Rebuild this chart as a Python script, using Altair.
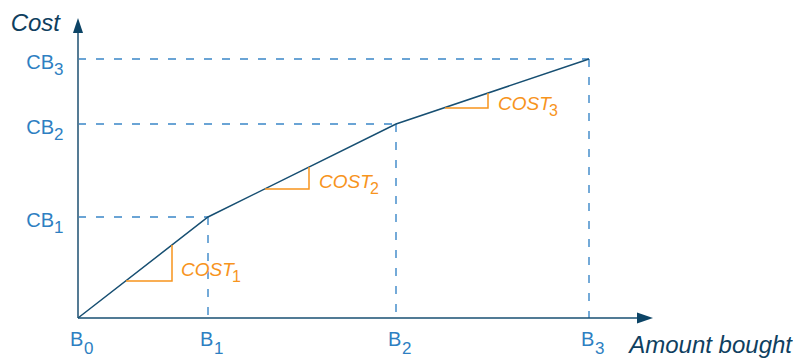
import altair as alt
import pandas as pd

# ---- data ----
breaks_x = [0, 130, 318, 511]          # B0..B3
breaks_y = [0, 101, 194, 259]          # 0, CB1..CB3
x_subs = ["0", "1", "2", "3"]
y_subs = ["1", "2", "3"]
cost_subs = ["1", "2", "3"]
tri_x0 = [48, 187, 367]
tri_x1 = [94, 231, 410]
tri_y0 = [37, 129, 210]
tri_y1 = [73, 151, 225]
cost_x = [103, 241, 420]
cost_y = [42, 130, 208]
x_max = 575
y_max = 300
x_axis_end = 559
y_axis_end = 285

NAVY = "#174f72"
AXIS_Y = "#557b94"
BLUE = "#3a87c8"
LBL = "#2e7fc2"
ORANGE = "#f7941d"
TITLE = "#0f3f5f"
FONT = "Liberation Sans"

xs = alt.Scale(domain=[0, x_max], nice=False, zero=False)
ys = alt.Scale(domain=[0, y_max], nice=False, zero=False)


def X(f):
    return alt.X(f, type="quantitative", scale=xs, axis=None)


def Y(f):
    return alt.Y(f, type="quantitative", scale=ys, axis=None)


line_df = pd.DataFrame({"x": breaks_x, "y": breaks_y})
h_df = pd.DataFrame({"x": [0] * 3, "x2": breaks_x[1:], "y": breaks_y[1:]})
v_df = pd.DataFrame({"x": breaks_x[1:], "y": breaks_y[1:], "y2": [0] * 3})

tri_rows = []
for i in range(3):
    tri_rows.append({"t": i, "o": 0, "x": tri_x0[i], "y": tri_y0[i]})
    tri_rows.append({"t": i, "o": 1, "x": tri_x1[i], "y": tri_y0[i]})
    tri_rows.append({"t": i, "o": 2, "x": tri_x1[i], "y": tri_y1[i]})
tri_df = pd.DataFrame(tri_rows)

cost_df = pd.DataFrame({"x": cost_x, "y": cost_y, "main": ["COST"] * 3, "sub": cost_subs})
xl_df = pd.DataFrame({"x": breaks_x, "y": [0] * 4, "main": ["B"] * 4, "sub": x_subs})
yl_df = pd.DataFrame({"x": [0] * 3, "y": breaks_y[1:], "main": ["CB"] * 3, "sub": y_subs})

xaxis_df = pd.DataFrame({"x": [0], "x2": [x_axis_end], "y": [0]})
yaxis_df = pd.DataFrame({"x": [0], "y": [0], "y2": [y_axis_end]})
xarrow_df = pd.DataFrame({"x": [x_max], "y": [0]})
yarrow_df = pd.DataFrame({"x": [0], "y": [y_max]})
title_df = pd.DataFrame({"x": [0, x_max], "y": [y_max, 0], "t": ["Cost", "Amount bought"]})

dash = [8, 10]

hdash = alt.Chart(h_df).mark_rule(color=BLUE, strokeWidth=1.4, strokeDash=dash).encode(
    x=X("x"), x2="x2", y=Y("y"))
vdash = alt.Chart(v_df).mark_rule(color=BLUE, strokeWidth=1.4, strokeDash=dash).encode(
    x=X("x"), y=Y("y"), y2="y2")

xaxis = alt.Chart(xaxis_df).mark_rule(color=NAVY, strokeWidth=1.6).encode(
    x=X("x"), x2="x2", y=Y("y"))
yaxis = alt.Chart(yaxis_df).mark_rule(color=AXIS_Y, strokeWidth=2).encode(
    x=X("x"), y=Y("y"), y2="y2")

xarrow = alt.Chart(xarrow_df).mark_point(
    shape="M0,0 L-2,-0.69 L-2,0.69 Z", size=256, filled=True, opacity=1,
    color="#0c4466", strokeWidth=0).encode(x=X("x"), y=Y("y"))
yarrow = alt.Chart(yarrow_df).mark_point(
    shape="M0,0 L0.67,2 L-0.67,2 Z", size=225, filled=True, opacity=1,
    color="#0c4466", strokeWidth=0).encode(x=X("x"), y=Y("y"))

cost_line = alt.Chart(line_df).mark_line(color=NAVY, strokeWidth=1.5).encode(
    x=X("x"), y=Y("y"))

tris = alt.Chart(tri_df).mark_line(color=ORANGE, strokeWidth=1.5).encode(
    x=X("x"), y=Y("y"), detail="t:N", order="o:Q")

cost_main = alt.Chart(cost_df).mark_text(
    font=FONT, fontSize=19, fontStyle="italic", color=ORANGE, align="left",
    baseline="alphabetic").encode(x=X("x"), y=Y("y"), text="main:N")
cost_sub = alt.Chart(cost_df).mark_text(
    font=FONT, fontSize=16, color=ORANGE, align="left", baseline="alphabetic",
    dx=51, dy=6).encode(x=X("x"), y=Y("y"), text="sub:N")

xl_main = alt.Chart(xl_df).mark_text(
    font=FONT, fontSize=20, color=LBL, align="left", baseline="alphabetic",
    dx=-8, dy=28).encode(x=X("x"), y=Y("y"), text="main:N")
xl_sub = alt.Chart(xl_df).mark_text(
    font=FONT, fontSize=17, color=LBL, align="left", baseline="alphabetic",
    dx=6, dy=36).encode(x=X("x"), y=Y("y"), text="sub:N")

yl_main = alt.Chart(yl_df).mark_text(
    font=FONT, fontSize=20, color=LBL, align="right", baseline="alphabetic",
    dx=-24, dy=10).encode(x=X("x"), y=Y("y"), text="main:N")
yl_sub = alt.Chart(yl_df).mark_text(
    font=FONT, fontSize=17, color=LBL, align="left", baseline="alphabetic",
    dx=-24, dy=16).encode(x=X("x"), y=Y("y"), text="sub:N")

title_cost = alt.Chart(title_df.iloc[[0]]).mark_text(
    font=FONT, fontSize=24, fontStyle="italic", color=TITLE, align="right",
    baseline="alphabetic", dx=-18, dy=13).encode(x=X("x"), y=Y("y"), text="t:N")
title_amt = alt.Chart(title_df.iloc[[1]]).mark_text(
    font=FONT, fontSize=24, fontStyle="italic", color=TITLE, align="right",
    baseline="alphabetic", dx=139, dy=35).encode(x=X("x"), y=Y("y"), text="t:N")

chart = alt.layer(
    hdash, vdash, xaxis, yaxis, xarrow, yarrow, cost_line, tris,
    cost_main, cost_sub, xl_main, xl_sub, yl_main, yl_sub, title_cost, title_amt,
).properties(
    width=x_max, height=y_max,
    background="white",
    autosize=alt.AutoSizeParams(type="none"),
    padding={"left": 70, "top": 10, "right": 140, "bottom": 40},
).configure_view(strokeWidth=0, stroke="transparent")

chart.save("out.html", embed_options={"renderer": "svg", "actions": False})
